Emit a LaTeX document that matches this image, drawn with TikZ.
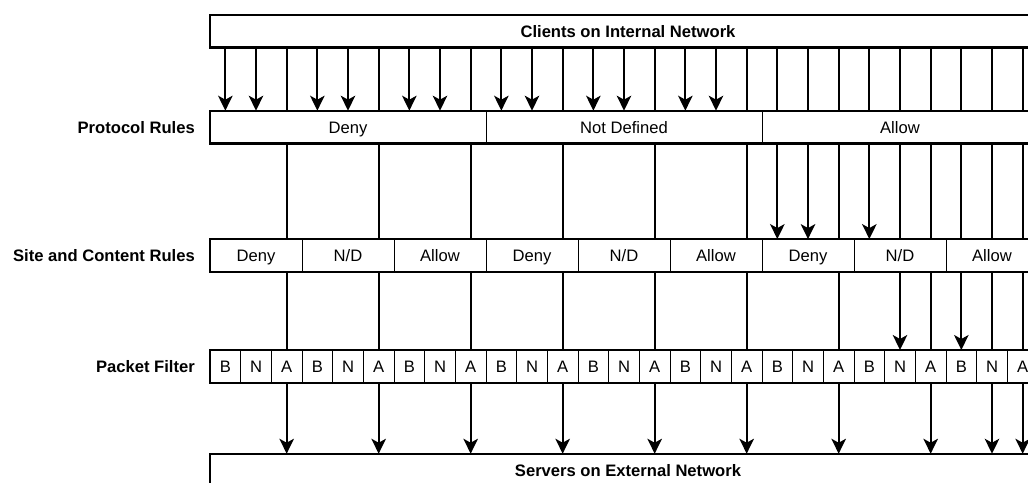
\documentclass[tikz,border=0pt]{standalone}
\usepackage{fontspec}
\setmainfont{Liberation Sans}
\usetikzlibrary{arrows.meta}
\begin{document}
\begin{tikzpicture}[x=1pt,y=-1pt,
  font=\fontsize{16.6}{20}\selectfont,
  every node/.style={text height=12.6pt, text depth=0pt},
  frame/.style={draw, line width=2.4pt},
  cell/.style={draw, line width=1pt, inner sep=0pt, outer sep=0pt},
  netbox/.style={draw, line width=2.4pt, inner sep=0pt, outer sep=0pt,
    minimum width=836pt, minimum height=32.5pt, font=\fontsize{16.6}{20}\selectfont\bfseries},
  rowlabel/.style={anchor=east, inner sep=0pt, font=\fontsize{16.6}{20}\selectfont\bfseries},
  conn/.style={line width=2pt},
  arr/.style={conn, -{Stealth[length=15pt,width=14.5pt,inset=4pt]}}]
\clip (0,0) rectangle (1028,482);

% network boxes
\node[netbox] (clients) at (628,31.2) {Clients on Internal Network};
\node[netbox] (servers) at (628,470) {Servers on External Network};

% protocol rules row
\foreach \k/\t in {0/Deny,1/Not Defined,2/Allow}
  \node[cell, minimum width=276pt, minimum height=32.6pt] (r\k) at ({210+276*(\k+0.5)},127) {\t};
\draw[frame] (r0.north west) rectangle (r2.south east);

% site and content rules row
\foreach \k/\t in {0/Deny,1/N\slash D,2/Allow,3/Deny,4/N\slash D,5/Allow,6/Deny,7/N\slash D,8/Allow}
  \node[cell, minimum width=92pt, minimum height=32.6pt] (s\k) at ({210+92*(\k+0.5)},255.4) {\t};
\draw[frame] (s0.north west) rectangle (s8.south east);

% packet filter row
\foreach \c in {0,...,26}{
  \pgfmathtruncatemacro{\m}{mod(\c,3)}
  \node[cell, minimum width=30.6667pt, minimum height=33pt] (p\c) at ({210+30.6667*(\c+0.5)},366.5)
    {\ifcase\m B\or N\or A\fi};
}
\draw[frame] (p0.north west) rectangle (p26.south east);

% row labels
\node[rowlabel] (lproto) at (195,127) {Protocol Rules};
\node[rowlabel] (lsite) at (195,255.4) {Site and Content Rules};
\node[rowlabel] (lpacket) at (195,366.5) {Packet Filter};

% clients -> protocol rules
\foreach \c in {0,1,3,4,6,7,9,10,12,13,15,16}
  \draw[arr] (clients.south -| p\c) -- (r0.north -| p\c);
\foreach \c in {2,5,8,11,14,17,18,19,20,21,22,23,24,25,26}
  \draw[conn] (clients.south -| p\c) -- (r0.north -| p\c);

% protocol rules -> site and content rules
\foreach \c in {18,19,21}
  \draw[arr] (r0.south -| p\c) -- (s0.north -| p\c);
\foreach \c in {2,5,8,11,14,17,20,22,23,24,25,26}
  \draw[conn] (r0.south -| p\c) -- (s0.north -| p\c);

% site and content rules -> packet filter
\foreach \c in {22,24}
  \draw[arr] (s0.south -| p\c) -- (p\c.north);
\foreach \c in {2,5,8,11,14,17,20,23,25,26}
  \draw[conn] (s0.south -| p\c) -- (p\c.north);

% packet filter -> servers
\foreach \c in {2,5,8,11,14,17,20,23,25,26}
  \draw[arr] (p\c.south) -- (servers.north -| p\c);
\end{tikzpicture}
\end{document}
